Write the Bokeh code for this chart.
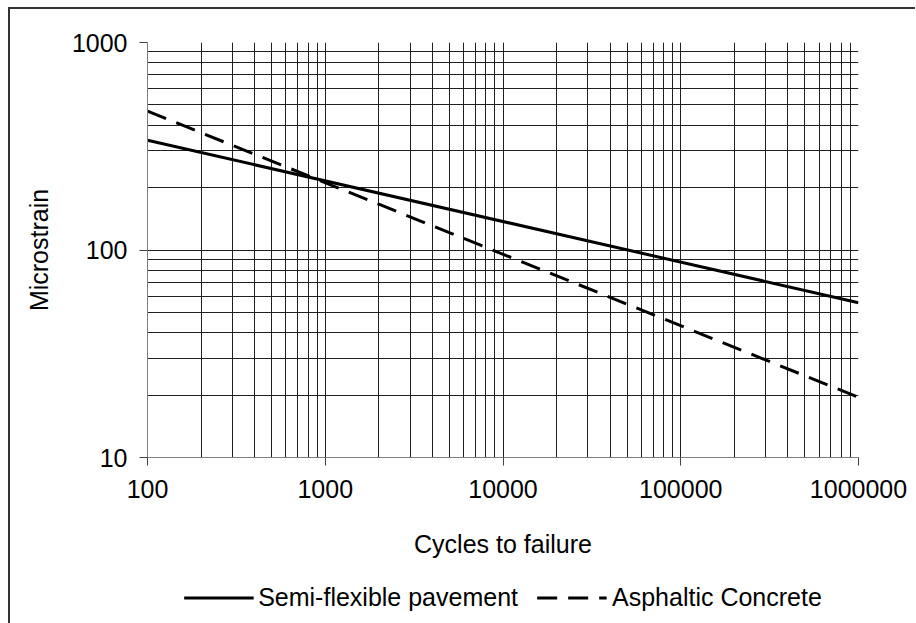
from bokeh.plotting import figure
from bokeh.layouts import column
from bokeh.models import FixedTicker, Legend, LegendItem, ColumnDataSource
from bokeh.embed import file_html
from bokeh.resources import INLINE

# Data (log-log straight lines, endpoints)
cycles = [100, 1000000]
semi_flexible = [338, 55.7]
asphaltic = [467, 19.5]

series_names = ["Semi-flexible pavement", "Asphaltic Concrete"]

x_major = [100, 1000, 10000, 100000, 1000000]
x_labels = ["100", "1000", "10000", "100000", "1000000"]
y_major = [10, 100, 1000]
y_labels = ["10", "100", "1000"]

x_minor = [m * 10 ** k for k in range(2, 6) for m in range(2, 10)]
y_minor = [m * 10 ** k for k in range(1, 3) for m in range(2, 10)]

FONT = "Liberation Sans"
SOLID = dict(line_color="black", line_width=3)
DASHED = dict(line_color="black", line_width=3, line_dash="20 11", line_cap="butt")

p = figure(frame_width=711, frame_height=415, x_axis_type="log", y_axis_type="log",
           x_range=(100, 1000000), y_range=(10, 1000),
           output_backend="svg", toolbar_location=None,
           min_border_left=137, min_border_top=33, min_border_right=57,
           min_border_bottom=110)

p.outline_line_color = None
src = ColumnDataSource(dict(x=cycles, s=semi_flexible, a=asphaltic))
p.line("x", "s", source=src, **SOLID)
p.line("x", "a", source=src, **DASHED)

for ax, major, labels, minor in ((p.xaxis[0], x_major, x_labels, x_minor),
                                  (p.yaxis[0], y_major, y_labels, y_minor)):
    ax.ticker = FixedTicker(ticks=major, minor_ticks=minor)
    ax.major_label_overrides = {v: l for v, l in zip(major, labels)}
    ax.major_label_text_font = FONT
    ax.major_label_text_font_size = "25px"
    ax.major_label_text_color = "black"
    ax.axis_label_text_font = FONT
    ax.axis_label_text_font_size = "25px"
    ax.axis_label_text_font_style = "normal"
    ax.axis_label_text_color = "black"
    ax.axis_line_color = "#808080"
    ax.axis_line_width = 1
    ax.major_tick_line_color = "#404040"
    ax.major_tick_out = 8
    ax.major_tick_in = 0
    ax.minor_tick_out = 0
    ax.minor_tick_in = 0

p.xaxis.axis_label = "Cycles to failure"
p.yaxis.axis_label = "Microstrain"
p.xaxis.major_label_standoff = 14
p.yaxis.major_label_standoff = 12
p.xaxis.axis_label_standoff = 29
p.yaxis.axis_label_standoff = 16

for g in (p.xgrid[0], p.ygrid[0]):
    g.grid_line_color = "#202020"
    g.grid_line_width = 1
    g.minor_grid_line_color = "#202020"
    g.minor_grid_line_width = 1

# Legend strip below the chart (its own small figure so nothing is clipped).
# The series are drawn there too, but fall outside its ranges, so only the
# legend samples show.
lg = figure(frame_width=711, frame_height=60, x_range=(0, 1), y_range=(0, 1),
            output_backend="svg", toolbar_location=None,
            x_axis_location=None, y_axis_location=None,
            min_border_left=137, min_border_right=57, min_border_top=0, min_border_bottom=0)
lg.grid.visible = False
lg.outline_line_color = None
l1 = lg.line("x", "s", source=src, **SOLID)
l2 = lg.line("x", "a", source=src, **DASHED)
legend = Legend(items=[LegendItem(label=series_names[0], renderers=[l1]),
                       LegendItem(label=series_names[1], renderers=[l2])],
                orientation="horizontal", location="center",
                label_text_font=FONT, label_text_font_size="25px",
                label_text_color="black",
                glyph_width=70, glyph_height=24, label_standoff=5, spacing=19,
                padding=0, margin=0, border_line_color=None,
                background_fill_alpha=0)
lg.add_layout(legend, "center")

layout = column(p, lg, spacing=0,
                styles={"border-top": "2px solid #333333", "border-left": "2px solid #333333",
                        "margin-left": "8px", "margin-top": "7px"})

open("out.html", "w").write(file_html(layout, INLINE))
